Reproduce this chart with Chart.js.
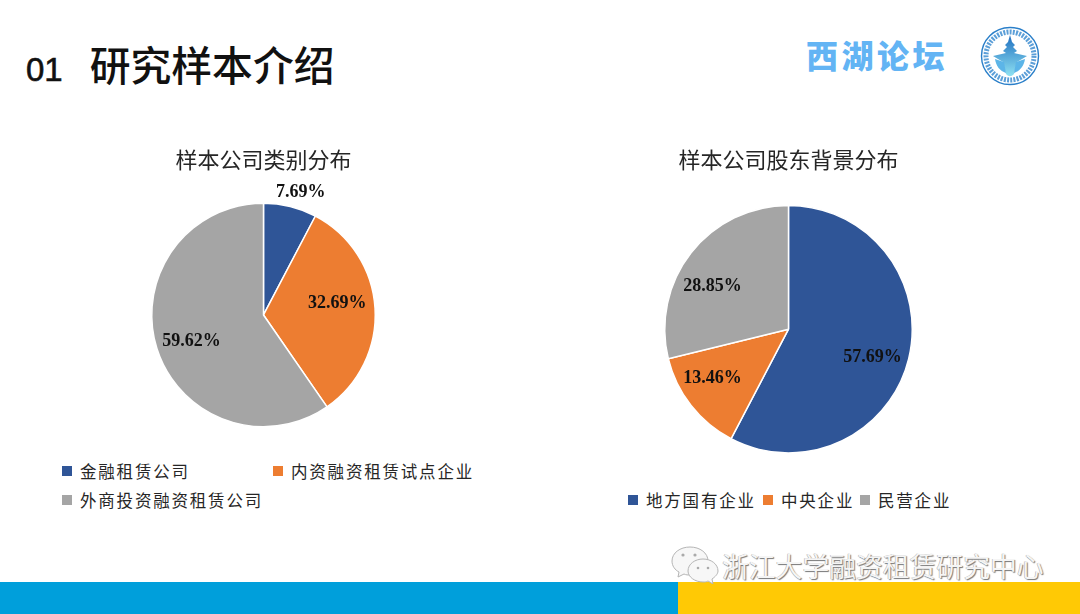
<!DOCTYPE html>
<html lang="zh">
<head>
<meta charset="utf-8">
<title>研究样本介绍</title>
<script src="https://cdn.jsdelivr.net/npm/chart.js@4"></script>
<style>
    html, body { margin: 0; padding: 0; background: #fff; }
    #slide { position: relative; width: 1080px; height: 614px; overflow: hidden; background: #fff; font-family: "Noto Sans CJK SC", sans-serif; color: #262626; }
    #slide > * { position: absolute; }
    canvas { display: block; }
    .heading { left: 26px; top: 35px; font-size: 40.8px; line-height: 58px; font-weight: 500; color: #111; white-space: nowrap; }
    .heading .num { font-family: "Liberation Sans", sans-serif; font-size: 33px; margin-right: 27px; -webkit-text-stroke: 0.6px #111; }
    .brand { left: 806px; top: 32px; font-size: 32px; line-height: 44px; font-weight: 900; letter-spacing: 3.5px; color: #63b4f4; white-space: nowrap; }
    .key { font-size: 16.5px; line-height: 24px; letter-spacing: 1.8px; white-space: nowrap; padding-left: 18px; }
    .key i { position: absolute; left: 0; top: 7px; width: 10px; height: 10px; }
    .bar { top: 582px; height: 32px; }
    .watermark { left: 722px; top: 546px; font-size: 26.8px; line-height: 40px; color: #f5f5f5; text-shadow: 1px 1px 1px #777, -0.5px -0.5px 0.5px #aaa; white-space: nowrap; }
</style>
</head>
<body>
<div id="slide">
    <div class="heading"><span class="num">01</span>研究样本介绍</div>
    <div class="brand">西湖论坛</div>
    <svg style="left:980px;top:26px" width="60" height="60" viewBox="0 0 60 60">
        <defs><linearGradient id="tower" x1="0" y1="0" x2="0" y2="1"><stop offset="0" stop-color="#1f6fc0"/><stop offset="1" stop-color="#8fe2f2"/></linearGradient></defs>
        <circle cx="30" cy="30" r="28.5" fill="#fff" stroke="#2a7fc9" stroke-width="1.4"/>
        <circle cx="30" cy="30" r="24" fill="none" stroke="#5c9fd8" stroke-width="5" stroke-dasharray="2 1.2"/>
        <path d="M30 9 L32 16 L35 19 L33 21 L37 25 L34 27 L47 30 L37 36 L34 48 C31 51 29 51 26 48 L23 36 L13 30 L26 27 L23 25 L27 21 L25 19 L28 16 Z" fill="url(#tower)"/>
        <path d="M15 33 L24 36 L26 47 C20 45 16 40 15 33 Z M45 33 L36 36 L34 47 C40 45 44 40 45 33 Z" fill="#5cb5e8"/>
    </svg>

    <canvas id="typeChart" width="407" height="290" style="left:60px;top:146px;width:407px;height:290px"></canvas>
    <canvas id="holderChart" width="407" height="320" style="left:585px;top:146px;width:407px;height:320px"></canvas>

    <div id="typeLegend"></div>
    <div id="holderLegend"></div>

    <div class="bar" style="left:0;width:678px;background:#009fdb"></div>
    <div class="bar" style="left:678px;width:402px;background:#ffc905"></div>

    <svg style="left:670px;top:544px" width="50" height="40" viewBox="0 0 50 40">
        <g fill="#f7f7f7" stroke="#b5b5b5" stroke-width="1">
            <path d="M20 3 C10 3 2 9 2 17 C2 22 5 26 9 28 L8 33 L14 30 C16 31 18 31 20 31 C30 31 38 25 38 17 C38 9 30 3 20 3 Z"/>
            <path d="M33 15 C25 15 18 20 18 27 C18 33 25 38 33 38 C35 38 36 38 38 37 L43 40 L42 35 C45 33 48 30 48 27 C48 20 41 15 33 15 Z"/>
        </g>
        <g fill="#aaa"><circle cx="13" cy="11" r="1.6"/><circle cx="25" cy="11" r="1.6"/><circle cx="28" cy="24" r="1.3"/><circle cx="38" cy="24" r="1.3"/></g>
    </svg>
    <div class="watermark">浙江大学融资租赁研究中心</div>
</div>

<script>
const PIE_COLORS = ['#2f5597', '#ed7d31', '#a5a5a5'];

const TYPE_TITLE = '样本公司类别分布';
const TYPE_NAMES = ['金融租赁公司', '内资融资租赁试点企业', '外商投资融资租赁公司'];
const TYPE_VALUES = [7.69, 32.69, 59.62];

const HOLDER_TITLE = '样本公司股东背景分布';
const HOLDER_NAMES = ['地方国有企业', '中央企业', '民营企业'];
const HOLDER_VALUES = [57.69, 13.46, 28.85];

// Draws the percent labels: out along the slice's mid angle, then a small nudge
const percentLabels = {
    id: 'percentLabels',
    afterDatasetsDraw(chart, args, opts) {
        const ctx = chart.ctx;
        const values = chart.data.datasets[0].data;
        ctx.save();
        ctx.font = 'bold 18px "Liberation Serif", serif';
        ctx.fillStyle = '#111';
        ctx.textAlign = 'center';
        ctx.textBaseline = 'middle';
        chart.getDatasetMeta(0).data.forEach((arc, i) => {
            const mid = (arc.startAngle + arc.endAngle) / 2;
            const r = arc.outerRadius * opts.radius[i];
            const x = arc.x + Math.cos(mid) * r + opts.nudge[i][0];
            const y = arc.y + Math.sin(mid) * r + opts.nudge[i][1];
            ctx.fillText(values[i].toFixed(2) + '%', x, y);
        });
        ctx.restore();
    }
};

function renderPie(id, title, names, values, titleGap, areaPad, labels) {
    new Chart(document.getElementById(id), {
        type: 'pie',
        data: {
            labels: names,
            datasets: [{
                data: values,
                backgroundColor: PIE_COLORS,
                borderColor: '#fff',
                borderWidth: 1.5
            }]
        },
        options: {
            responsive: false,
            animation: false,
            layout: { padding: { left: areaPad, right: areaPad } },
            plugins: {
                legend: { display: false },
                tooltip: { enabled: false },
                title: {
                    display: true,
                    text: title,
                    color: '#262626',
                    font: { family: '"Noto Sans CJK SC"', size: 22, weight: 'normal' },
                    padding: { top: 0, bottom: titleGap }
                },
                percentLabels: labels
            }
        },
        plugins: [percentLabels]
    });
}

function renderLegend(id, names, spots) {
    const box = document.getElementById(id);
    names.forEach((name, i) => {
        const item = document.createElement('div');
        item.className = 'key';
        item.style.position = 'absolute';
        item.style.left = spots[i][0] + 'px';
        item.style.top = spots[i][1] + 'px';
        item.innerHTML = `<i style="background:${PIE_COLORS[i]}"></i>${name}`;
        box.appendChild(item);
    });
}

renderPie('typeChart', TYPE_TITLE, TYPE_NAMES, TYPE_VALUES, 21.5, 91, {
    radius: [1.17, 0.68, 0.685],
    nudge: [[6, 4], [-2, -7.5], [1, 3.5]]
});
renderPie('holderChart', HOLDER_TITLE, HOLDER_NAMES, HOLDER_VALUES, 20, 79, {
    radius: [0.7, 0.73, 0.73],
    nudge: [[0, 7], [-5, -7], [-5, 13]]
});

renderLegend('typeLegend', TYPE_NAMES, [[62, 459], [273, 459], [62, 488]]);
renderLegend('holderLegend', HOLDER_NAMES, [[628, 488], [763, 488], [860, 488]]);
</script>
</body>
</html>
